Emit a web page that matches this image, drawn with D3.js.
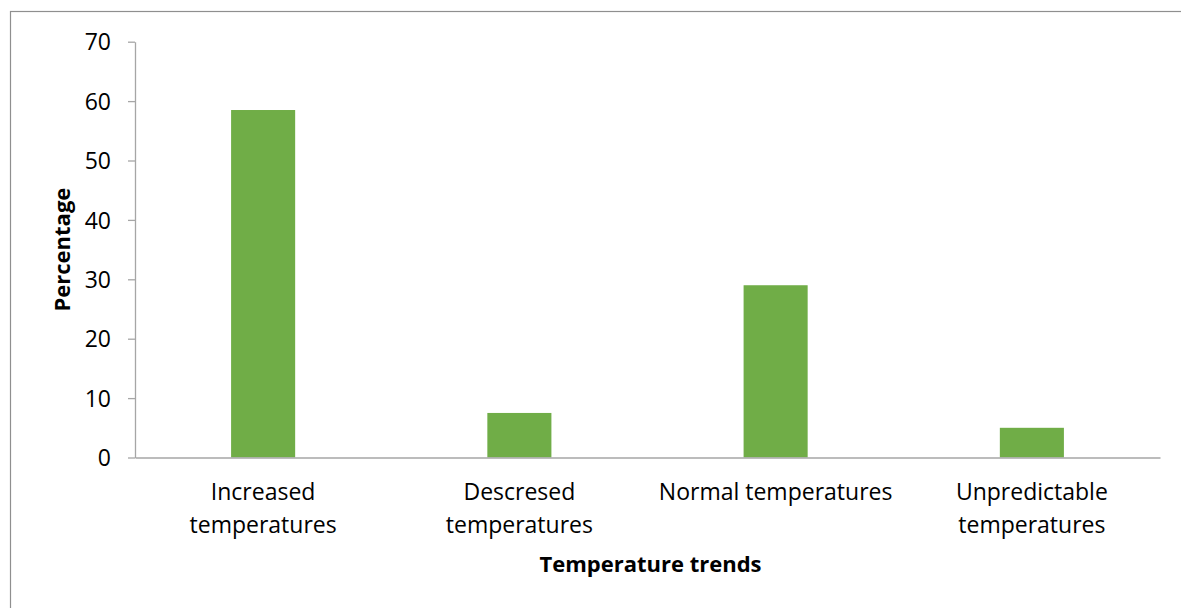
<!DOCTYPE html>
<html>
<head>
<meta charset="utf-8">
<script src="https://cdn.jsdelivr.net/npm/d3@7"></script>
<style>
  html, body { margin: 0; padding: 0; background: #fff; }
  svg { display: block; }
  text { font-family: "Open Sans", "Liberation Sans", sans-serif; fill: #000; }
</style>
</head>
<body>
<svg id="chart" width="1181" height="608"></svg>
<script>
// Survey responses: perceived temperature trends (percentage of respondents)
const categories = [
  ["Increased", "temperatures"],
  ["Descresed", "temperatures"],
  ["Normal temperatures"],
  ["Unpredictable", "temperatures"]
];
const values = [58.5, 7.5, 29, 5];
const yTicks = [0, 10, 20, 30, 40, 50, 60, 70];
const xTitle = "Temperature trends";
const yTitle = "Percentage";

const svg = d3.select("#chart");
const margin = { left: 135, right: 21, top: 41.7, bottom: 150.5 };
const W = 1181, H = 608;

// chart frame
svg.append("rect")
  .attr("x", 10.5).attr("y", 11.5)
  .attr("width", W + 20).attr("height", H + 20)
  .attr("fill", "#fff").attr("stroke", "#8f8f8f").attr("stroke-width", 1.2);

const keys = categories.map(c => c.join(" "));
const x = d3.scaleBand()
  .domain(keys)
  .range([margin.left, W - margin.right])
  .paddingInner(0.75)
  .paddingOuter(0.375);

const y = d3.scaleLinear()
  .domain([0, 70])
  .range([H - margin.bottom, margin.top]);

// bars
svg.append("g").selectAll("rect")
  .data(values)
  .join("rect")
  .attr("x", (d, i) => x(keys[i]))
  .attr("width", x.bandwidth())
  .attr("y", d => y(d))
  .attr("height", d => y(0) - y(d))
  .attr("fill", "#70AD47");

// y axis
const yAxis = svg.append("g")
  .attr("transform", `translate(${margin.left},0)`)
  .call(d3.axisLeft(y).tickValues(yTicks).tickSize(7).tickPadding(17).tickSizeOuter(0));
yAxis.attr("font-size", null).attr("font-family", null);
yAxis.select(".domain").attr("stroke", "#a6a6a6").attr("stroke-width", 1.3);
yAxis.selectAll(".tick line").attr("stroke", "#a6a6a6").attr("stroke-width", 1.3);
yAxis.selectAll(".tick text")
  .attr("font-size", 23)
  .attr("dy", "0.36em")
  .attr("fill", "#000");

// x axis baseline
const xAxis = svg.append("g")
  .attr("transform", `translate(0,${y(0)})`)
  .call(d3.axisBottom(x).tickSize(0).tickFormat(""));
xAxis.select(".domain").attr("stroke", "#a6a6a6").attr("stroke-width", 1.6);

// category labels (wrapped)
const labels = svg.append("g").selectAll("text")
  .data(categories)
  .join("text")
  .attr("text-anchor", "middle")
  .attr("font-size", 23)
  .attr("x", (d, i) => x(keys[i]) + x.bandwidth() / 2)
  .attr("y", 500);
labels.selectAll("tspan")
  .data(d => d)
  .join("tspan")
  .attr("x", function() { return d3.select(this.parentNode).attr("x"); })
  .attr("dy", (d, i) => i === 0 ? 0 : 33)
  .text(d => d);

// axis titles
svg.append("text")
  .attr("x", (margin.left + W - margin.right) / 2 + 3)
  .attr("y", 572)
  .attr("text-anchor", "middle")
  .attr("font-size", 22)
  .attr("font-weight", "bold")
  .text(xTitle);

svg.append("text")
  .attr("transform", `translate(70,${(y(0) + y(70)) / 2}) rotate(-90)`)
  .attr("text-anchor", "middle")
  .attr("font-size", 22)
  .attr("font-weight", "bold")
  .text(yTitle);
</script>
</body>
</html>
